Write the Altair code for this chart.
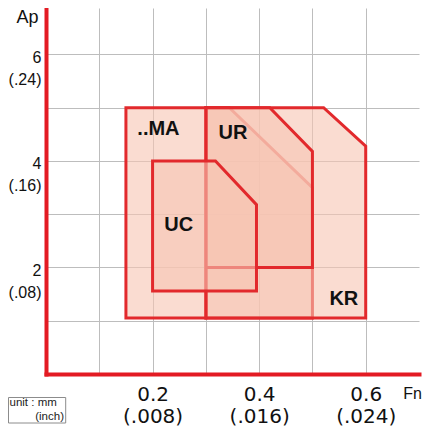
import altair as alt
import pandas as pd

# ---------------- data ----------------
# hidden outline underneath KR/UR (visible as faint lines)
HIDDEN_X = [0.30, 0.344, 0.50]
HIDDEN_TOP = [5.0, 5.0, 3.5]
HIDDEN_BOTTOM = 1.05

KR_X = [0.30, 0.521, 0.60]
KR_TOP = [5.0, 5.0, 4.28]
KR_BOTTOM = 1.05

UR_X = [0.30, 0.42, 0.50]
UR_TOP = [5.0, 5.0, 4.18]
UR_BOTTOM = 2.0

MA_X = [0.15, 0.30]
MA_TOP = [5.0, 5.0]
MA_BOTTOM = 1.05

UC_X = [0.20, 0.318, 0.395]
UC_TOP = [4.0, 4.0, 3.18]
UC_BOTTOM = 1.56

LABELS = ["..MA", "UR", "UC", "KR"]
LABEL_X = [0.211, 0.351, 0.249, 0.559]
LABEL_Y = [4.61, 4.53, 2.80, 1.40]

X_TICK_VALUES = [0.1, 0.2, 0.3, 0.4, 0.5, 0.6]
X_LABEL_VALUES = [0.2, 0.4, 0.6]
X_LABEL_MM = ["0.2", "0.4", "0.6"]
X_LABEL_INCH = ["(.008)", "(.016)", "(.024)"]

Y_TICK_VALUES = [1, 2, 3, 4, 5, 6]
Y_LABEL_VALUES = [2, 4, 6]
Y_LABEL_MM = ["2", "4", "6"]
Y_LABEL_INCH = ["(.08)", "(.16)", "(.24)"]

# ---------------- styling ----------------
RED = "#E2292C"
AXIS_RED = "#E31B23"
FILL = "#F6C4B2"
GRID = "#BDBDBD"
TXT = "#111111"


def label_expr(values, mm, inch):
    parts = [f"abs(datum.value - {v}) < 1e-6 ? ['{a}', '{b}']" for v, a, b in zip(values, mm, inch)]
    return " : ".join(parts) + " : ''"


xscale = alt.Scale(domain=[0, 0.7], nice=False, zero=False)
yscale = alt.Scale(domain=[0, 6.873], nice=False, zero=False)

xaxis = alt.Axis(
    values=X_TICK_VALUES, grid=True, gridColor=GRID, gridWidth=1,
    ticks=False, tickSize=0, domain=True, domainColor=AXIS_RED, domainWidth=4, domainCap="square",
    labelExpr=label_expr(X_LABEL_VALUES, X_LABEL_MM, X_LABEL_INCH),
    labelFont="DejaVu Sans", labelFontSize=20, labelColor=TXT, labelPadding=10,
    labelLineHeight=22, labelBaseline="top", labelAlign="center",
    labelOverlap=False, labelFlush=False,
    title="Fn", titleFont="Liberation Sans", titleFontSize=16, titleFontWeight="normal",
    titleColor=TXT, titleX=366, titleY=11, titleAlign="center", titleBaseline="top",
)

yaxis = alt.Axis(
    values=Y_TICK_VALUES, grid=True, gridColor=GRID, gridWidth=1,
    ticks=False, tickSize=0, domain=True, domainColor=AXIS_RED, domainWidth=4, domainCap="square",
    labelExpr=label_expr(Y_LABEL_VALUES, Y_LABEL_MM, Y_LABEL_INCH),
    labelFont="Liberation Sans", labelFontSize=16, labelColor=TXT, labelPadding=5,
    labelLineHeight=22, labelBaseline="top", labelAlign="right", labelOffset=-5,
    labelOverlap=False, labelFlush=False,
    title="Ap", titleFont="Liberation Sans", titleFontSize=18, titleFontWeight="normal",
    titleColor=TXT, titleAngle=0, titleX=-19, titleY=0, titleAlign="center", titleBaseline="top",
)


def shape_layer(xs, tops, bottom):
    df = pd.DataFrame({"Fn": xs, "Ap": tops, "Ap0": [bottom] * len(xs)})
    return alt.Chart(df).mark_area(
        fill=FILL, fillOpacity=0.6, stroke=RED, strokeWidth=3,
        strokeJoin="miter", interpolate="linear",
    ).encode(
        x=alt.X("Fn:Q", scale=xscale, axis=xaxis),
        y=alt.Y("Ap:Q", scale=yscale, axis=yaxis),
        y2="Ap0:Q",
    )


layers = [
    shape_layer(HIDDEN_X, HIDDEN_TOP, HIDDEN_BOTTOM),
    shape_layer(KR_X, KR_TOP, KR_BOTTOM),
    shape_layer(UR_X, UR_TOP, UR_BOTTOM),
    shape_layer(MA_X, MA_TOP, MA_BOTTOM),
    shape_layer(UC_X, UC_TOP, UC_BOTTOM),
]

label_df = pd.DataFrame({"Fn": LABEL_X, "Ap": LABEL_Y, "name": LABELS})
text_layer = alt.Chart(label_df).mark_text(
    font="Liberation Sans", fontWeight="bold", fontSize=20, color=TXT,
    align="center", baseline="middle",
).encode(
    x=alt.X("Fn:Q", scale=xscale, axis=xaxis),
    y=alt.Y("Ap:Q", scale=yscale, axis=yaxis),
    text="name:N",
)

# "unit" legend box at bottom-left
one = pd.DataFrame({"k": [0]})
unit_box = alt.Chart(one).mark_rect(fill="white", stroke="#8C8C8C", strokeWidth=1).encode(
    x=alt.value(-37.5), x2=alt.value(19.7), y=alt.value(389.5), y2=alt.value(415)
)
unit_t1 = alt.Chart(one).mark_text(
    font="Liberation Sans", fontSize=11.5, color="#222", align="left", baseline="alphabetic"
).encode(x=alt.value(-36.5), y=alt.value(398), text=alt.value("unit : mm"))
unit_t2 = alt.Chart(one).mark_text(
    font="Liberation Sans", fontSize=11.5, color="#222", align="right", baseline="alphabetic"
).encode(x=alt.value(18), y=alt.value(412), text=alt.value("(inch)"))

chart = alt.layer(*layers, text_layer, unit_box, unit_t1, unit_t2).properties(
    width=373, height=366,
    autosize=alt.AutoSizeParams(type="none"),
    padding={"left": 38, "top": 0, "right": 4, "bottom": 53},
    background="white",
).configure_view(stroke=None)

chart.save("out.html", embed_options={"renderer": "svg", "actions": False})
